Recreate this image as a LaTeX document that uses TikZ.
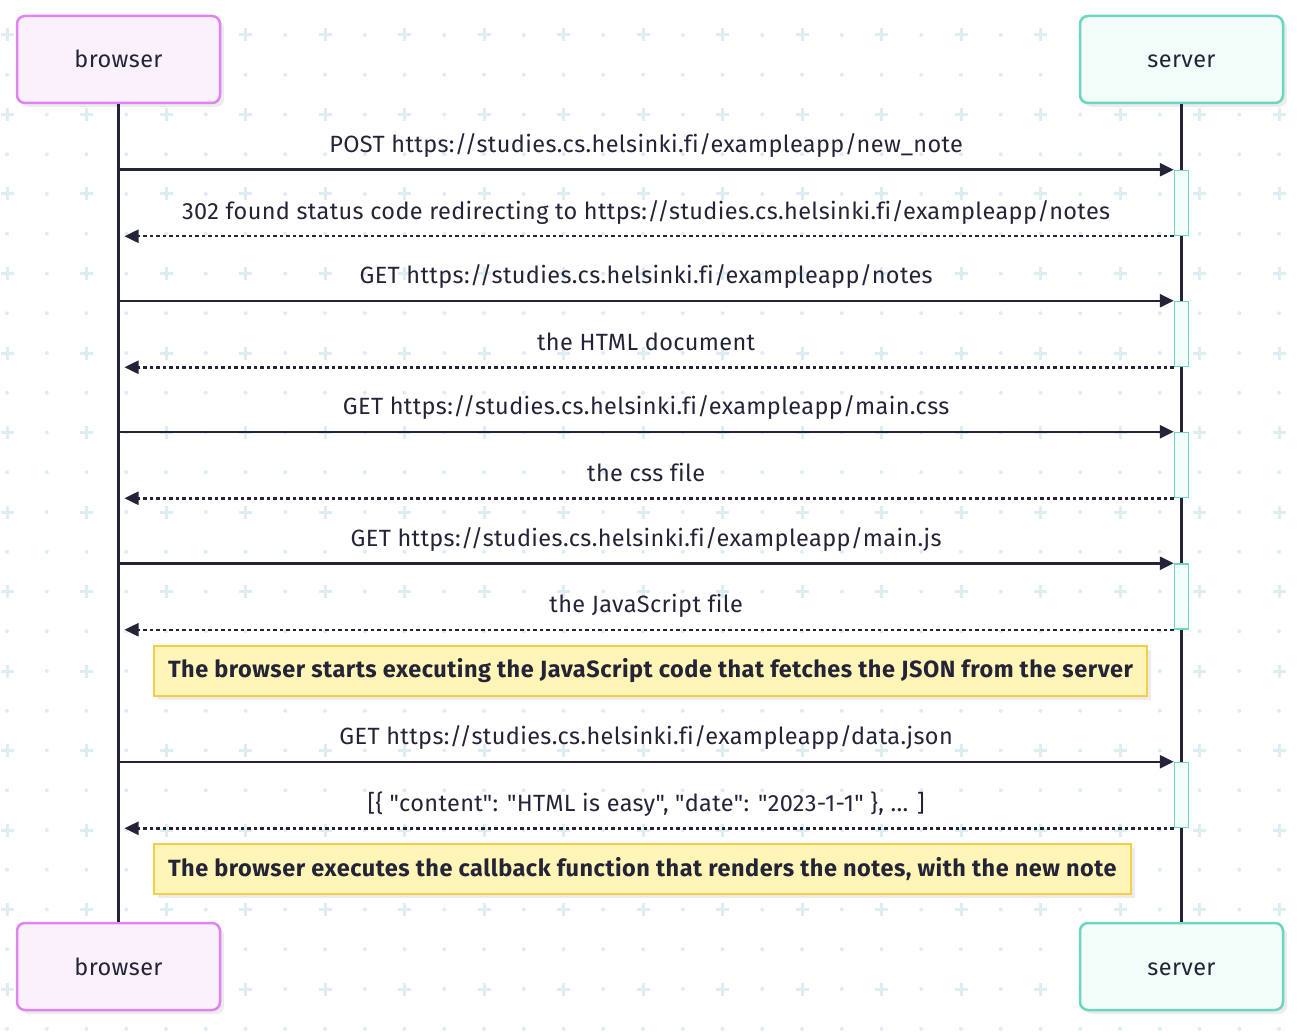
\documentclass[tikz,border=0pt]{standalone}
\usepackage{fontspec}
\newfontfamily\diagfont{Fira Sans}[Ligatures=NoCommon, LetterSpace=1.6, BoldFeatures={LetterSpace=2.2}]
\usetikzlibrary{arrows.meta, shadows}

\definecolor{ink}{RGB}{36,36,56}
\definecolor{gridblue}{RGB}{221,237,242}
\definecolor{browserline}{RGB}{224,131,240}
\definecolor{browserfill}{RGB}{250,241,253}
\definecolor{serverline}{RGB}{108,213,191}
\definecolor{serverfill}{RGB}{242,252,249}
\definecolor{notefill}{RGB}{255,245,182}
\definecolor{noteline}{RGB}{245,205,75}
\definecolor{shadowgray}{RGB}{236,236,236}

\newcommand{\labelsize}{\fontsize{23.5}{28}\selectfont}

\tikzset{
    actor/.style={draw, line width=2.5pt, rounded corners=8pt, minimum width=203pt, minimum height=87pt,
        font=\diagfont\labelsize, text=ink, text height=18pt, text depth=1pt,
        drop shadow={shadow xshift=4pt, shadow yshift=-4pt, fill=shadowgray, opacity=1}},
    browseractor/.style={actor, draw=browserline, fill=browserfill},
    serveractor/.style={actor, draw=serverline, fill=serverfill},
    lifeline/.style={ink, line width=2.5pt},
    activation/.style={draw=serverline, fill=serverfill, line width=1.5pt, minimum width=14pt, minimum height=65pt, inner sep=0pt},
    msg/.style={ink, line width=2.5pt, -{Triangle[length=14pt,width=13pt]}},
    reply/.style={msg, dash pattern=on 3.5pt off 3pt, shorten >=6pt},
    msglabel/.style={pos=.5, anchor=base, yshift=17pt, font=\diagfont\labelsize, text=ink},
    notebox/.style={draw=noteline, fill=notefill, line width=2pt, anchor=west, minimum height=50pt, inner xsep=14pt,
        font=\diagfont\labelsize\bfseries, text=ink,
        drop shadow={shadow xshift=4pt, shadow yshift=-4pt, fill=shadowgray, opacity=1}},
    plusmark/.style={gridblue, line width=3pt},
}

\begin{document}
\begin{tikzpicture}[x=1pt, y=-1pt]
    \useasboundingbox (0,0) rectangle (1300,1032);

    % background grid
    \foreach \i in {0,...,32}{
        \foreach \j in {0,...,26}{
            \pgfmathtruncatemacro{\isplus}{(mod(\i,2)==0) && (mod(\j,2)==1)}
            \ifnum\isplus=1
                \draw[plusmark] ({7+39.75*\i},{-4.75+39.75*\j}) ++(-6.5,0) -- ++(13,0) ++(-6.5,-6.5) -- ++(0,13);
            \else
                \fill[gridblue] ({7+39.75*\i},{-4.75+39.75*\j}) circle (2pt);
            \fi
        }
    }

    % participants
    \node[browseractor] (browserTop) at (118.5,59.5) {browser};
    \node[serveractor] (serverTop) at (1181.5,59.5) {server};
    \node[browseractor] (browserBot) at (118.5,966.5) {browser};
    \node[serveractor] (serverBot) at (1181.5,966.5) {server};

    \draw[lifeline] (browserTop) -- (browserBot);
    \draw[lifeline] (serverTop) -- (serverBot);

    % activations
    \node[activation] (act1) at (1181.5,203) {};
    \node[activation] (act2) at (1181.5,334) {};
    \node[activation] (act3) at (1181.5,465) {};
    \node[activation] (act4) at (1181.5,596.5) {};
    \node[activation] (act5) at (1181.5,795) {};

    % messages
    \draw[msg] (browserTop |- act1.north west) -- (act1.north west)
        node[msglabel] {POST https://studies.cs.helsinki.fi/exampleapp/new\_note};
    \draw[reply] (act1.south west) -- (browserTop |- act1.south west)
        node[msglabel] {302 found status code redirecting to https://studies.cs.helsinki.fi/exampleapp/notes};

    \draw[msg] (browserTop |- act2.north west) -- (act2.north west)
        node[msglabel] {GET https://studies.cs.helsinki.fi/exampleapp/notes};
    \draw[reply] (act2.south west) -- (browserTop |- act2.south west)
        node[msglabel] {the HTML document};

    \draw[msg] (browserTop |- act3.north west) -- (act3.north west)
        node[msglabel] {GET https://studies.cs.helsinki.fi/exampleapp/main.css};
    \draw[reply] (act3.south west) -- (browserTop |- act3.south west)
        node[msglabel] {the css file};

    \draw[msg] (browserTop |- act4.north west) -- (act4.north west)
        node[msglabel] {GET https://studies.cs.helsinki.fi/exampleapp/main.js};
    \draw[reply] (act4.south west) -- (browserTop |- act4.south west)
        node[msglabel] {the JavaScript file};

    \node[notebox] (note1) at (153,670.5) {The browser starts executing the JavaScript code that fetches the JSON from the server};

    \draw[msg] (browserTop |- act5.north west) -- (act5.north west)
        node[msglabel] {GET https://studies.cs.helsinki.fi/exampleapp/data.json};
    \draw[reply] (act5.south west) -- (browserTop |- act5.south west)
        node[msglabel] {[\{ "content": "HTML is easy", "date": "2023-1-1" \}, ... ]};

    \node[notebox] (note2) at (153,869) {The browser executes the callback function that renders the notes, with the new note};
\end{tikzpicture}
\end{document}
